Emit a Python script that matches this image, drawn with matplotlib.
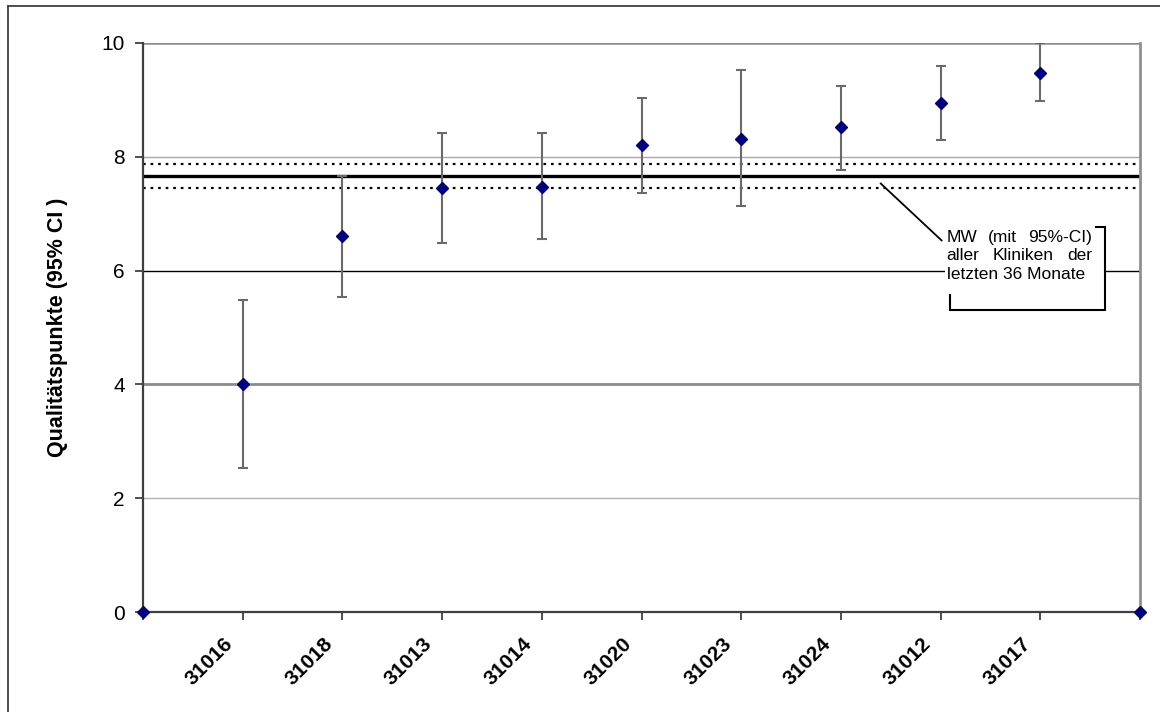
import matplotlib

matplotlib.use("Agg")
import matplotlib.pyplot as plt
import matplotlib.transforms as mtransforms
from matplotlib.lines import Line2D
from matplotlib.patches import Rectangle

plt.rcParams["font.family"] = ["Liberation Sans", "DejaVu Sans"]

# clinics, mean quality points and 95% CI bounds
clinics = ["31016", "31018", "31013", "31014", "31020", "31023", "31024", "31012", "31017"]
means = [4.00, 6.60, 7.46, 7.47, 8.20, 8.32, 8.52, 8.95, 9.48]
ci_low = [2.53, 5.53, 6.49, 6.55, 7.37, 7.14, 7.77, 8.30, 8.98]
ci_high = [5.48, 7.67, 8.42, 8.41, 9.03, 9.53, 9.25, 9.60, 10.00]

# overall mean of all clinics (last 36 months) with 95% CI
overall_mean = 7.66
overall_low = 7.45
overall_high = 7.87

# empty anchor points at both ends of the axis
anchor_x = [0, len(clinics) + 1]
anchor_y = [0, 0]

y_ticks = [0, 2, 4, 6, 8, 10]
note_lines = [["MW", "(mit", "95%-CI)"], ["aller", "Kliniken", "der"], ["letzten 36 Monate"]]


def justified_line(ax, words, x0, x1, y, **kw):
    renderer = ax.figure.canvas.get_renderer()
    texts = [ax.text(x0, y, w, **kw) for w in words]
    if len(words) == 1:
        return
    widths = [t.get_window_extent(renderer).width for t in texts]
    px0 = ax.transData.transform((x0, y))[0]
    px1 = ax.transData.transform((x1, y))[0]
    gap = (px1 - px0 - sum(widths)) / (len(words) - 1)
    cur = px0
    inv = ax.transData.inverted()
    for t, w in zip(texts, widths):
        t.set_x(inv.transform((cur, 0))[0])
        cur += w + gap


fig = plt.figure(figsize=(11.6, 7.12), dpi=100)
ax = fig.add_axes([143 / 1160, 100 / 712, 997 / 1160, 569 / 712])

x = list(range(1, len(clinics) + 1))
ax.set_xlim(0, len(clinics) + 1)
ax.set_ylim(0, 10)

# horizontal grid lines (look of the original export)
grid_style = {2: ("#b0b0b0", 1.0), 4: ("#8c8c8c", 2.0), 6: ("#000000", 1.0), 8: ("#a8a8a8", 1.0), 10: ("#8c8c8c", 1.8)}
for yv, (c, lw) in grid_style.items():
    ax.axhline(yv, color=c, lw=lw, zorder=1)

# overall mean and CI
ax.axhline(overall_mean, color="black", lw=2.4, zorder=2)
ax.axhline(overall_high, color="black", lw=1.6, ls=(0, (1.2, 2.2)), zorder=2)
ax.axhline(overall_low, color="black", lw=1.6, ls=(0, (1.2, 2.2)), zorder=2)

yerr = [[m - lo for m, lo in zip(means, ci_low)], [hi - m for m, hi in zip(means, ci_high)]]
eb = ax.errorbar(x, means, yerr=yerr, fmt="none", ecolor="#6a6a6a", elinewidth=1.5,
                 capsize=3.6, capthick=1.5, zorder=3)
for cap in eb[1]:
    cap.set_color("#333333")
ax.plot(x, means, "D", color="#000080", ms=6, zorder=4)
ax.plot(anchor_x, anchor_y, "D", color="#000080", ms=6, zorder=5, clip_on=False)

# axes styling
ax.spines["top"].set_visible(False)
ax.spines["left"].set_color("#404040")
ax.spines["left"].set_linewidth(1.6)
ax.spines["bottom"].set_color("#404040")
ax.spines["bottom"].set_linewidth(1.6)
ax.spines["right"].set_color("#909090")
ax.spines["right"].set_linewidth(2.0)

ax.set_yticks(y_ticks)
ax.set_yticklabels([str(v) for v in y_ticks], fontsize=15)
ax.set_xticks(anchor_x[:1] + x + anchor_x[1:])
ax.set_xticklabels([""] + clinics + [""], rotation=45, ha="right", fontsize=15,
                   fontweight="bold")
ax.tick_params(axis="y", length=6, width=1.3, color="#404040", pad=7)
ax.tick_params(axis="x", length=6, width=1.3, color="#404040", pad=10)
# nudge the rotated labels a little to the left (after tick_params, which resets transforms)
shift = mtransforms.ScaledTranslation(-6 / 100, 0, fig.dpi_scale_trans)
for lab in ax.get_xticklabels():
    lab.set_transform(lab.get_transform() + shift)
ax.set_ylabel("Qualitätspunkte (95% CI )", fontsize=15.5, fontweight="bold", labelpad=24)

# annotation for the overall mean
ax.plot([7.40, 8.01], [7.53, 6.53], color="black", lw=1.3, zorder=6)
ax.add_patch(Rectangle((8.04, 5.31), 9.65 - 8.04, 6.77 - 5.31, facecolor="white",
                       edgecolor="none", zorder=6))
ax.plot([9.56, 9.65, 9.65, 8.09, 8.09], [6.77, 6.77, 5.31, 5.31, 5.57], color="black",
        lw=1.5, zorder=7, solid_joinstyle="miter")
for words, yb in zip(note_lines, [6.51, 6.18, 5.86]):
    justified_line(ax, words, 8.06, 9.52, yb, fontsize=12.5, va="baseline", zorder=8)

# outer frame of the exported chart
fig.add_artist(Line2D([7.5 / 1160, 7.5 / 1160], [0, 1 - 6 / 712], color="#404040", lw=1.3))
fig.add_artist(Line2D([7.5 / 1160, 1], [1 - 6 / 712, 1 - 6 / 712], color="#404040", lw=1.3))

fig.savefig("out.png", dpi=100)
plt.close(fig)
